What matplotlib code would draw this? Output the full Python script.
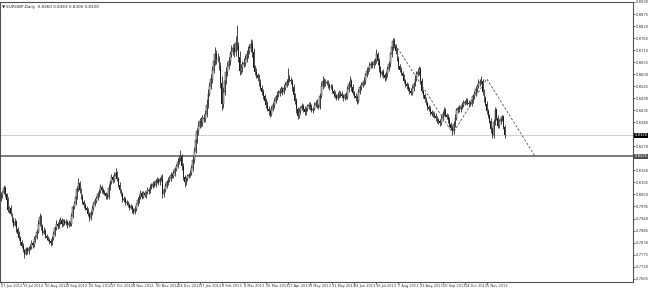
import numpy as np
import matplotlib
matplotlib.use("Agg")
import matplotlib.pyplot as plt
from matplotlib.transforms import blended_transform_factory

# EURGBP daily candles, prices in pips (price * 10000)
symbol = "EURGBP,Daily"
date_labels = ["27 Jun 2012", "19 Jul 2012", "10 Aug 2012", "3 Sep 2012", "25 Sep 2012",
               "17 Oct 2012", "8 Nov 2012", "30 Nov 2012", "24 Dec 2012", "17 Jan 2013",
               "8 Feb 2013", "4 Mar 2013", "26 Mar 2013", "17 Apr 2013", "9 May 2013",
               "31 May 2013", "24 Jun 2013", "16 Jul 2013", "7 Aug 2013", "29 Aug 2013",
               "20 Sep 2013", "14 Oct 2013", "5 Nov 2013"]
label_every = 16

first_open = 8030
closes = [
    8047, 8060, 8079, 8050, 8025, 7979, 7990, 7960, 7935, 7911,
    7925, 7890, 7870, 7850, 7834, 7815, 7795, 7780, 7800, 7790,
    7805, 7811, 7830, 7820, 7845, 7856, 7880, 7915, 7947, 7905,
    7875, 7885, 7860, 7850, 7843, 7835, 7829, 7850, 7870, 7895,
    7916, 7905, 7925, 7934, 7915, 7930, 7920, 7925, 7910, 7920,
    7916, 7950, 7993, 8010, 8040, 8075, 8102, 8070, 8040, 8016,
    8000, 7990, 7979, 7960, 7943, 7965, 7990, 8005, 8020, 8034,
    8050, 8065, 8084, 8070, 8060, 8056, 8045, 8038, 8080, 8105,
    8129, 8115, 8135, 8147, 8120, 8095, 8070, 8050, 8025, 8030,
    8015, 8010, 8002, 7990, 7995, 7980, 7970, 7985, 8005, 8025,
    8040, 8056, 8040, 8055, 8047, 8060, 8070, 8065, 8084, 8090,
    8100, 8095, 8110, 8115, 8105, 8120, 8125, 8050, 8070, 8090,
    8105, 8115, 8125, 8140, 8135, 8147, 8165, 8180, 8200, 8215,
    8225, 8180, 8130, 8106, 8120, 8135, 8140, 8147, 8170, 8206,
    8250, 8297, 8340, 8365, 8388, 8375, 8400, 8395, 8420, 8460,
    8511, 8545, 8579, 8620, 8660, 8690, 8670, 8670, 8638, 8560,
    8465, 8520, 8570, 8610, 8638, 8660, 8690, 8706, 8720, 8700,
    8743, 8729, 8680, 8615, 8630, 8645, 8652, 8670, 8690, 8706,
    8720, 8738, 8700, 8629, 8610, 8595, 8584, 8560, 8538, 8520,
    8500, 8479, 8460, 8443, 8430, 8420, 8440, 8460, 8479, 8495,
    8505, 8515, 8525, 8530, 8520, 8538, 8550, 8565, 8580, 8575,
    8570, 8540, 8505, 8479, 8440, 8411, 8430, 8445, 8456, 8440,
    8425, 8440, 8455, 8461, 8450, 8435, 8443, 8460, 8470, 8455,
    8452, 8500, 8545, 8570, 8555, 8565, 8561, 8550, 8540, 8543,
    8525, 8510, 8500, 8493, 8505, 8515, 8511, 8500, 8490, 8505,
    8497, 8530, 8555, 8570, 8540, 8515, 8502, 8490, 8479, 8520,
    8540, 8552, 8560, 8570, 8595, 8615, 8625, 8640, 8647, 8640,
    8655, 8661, 8693, 8660, 8625, 8602, 8610, 8595, 8584, 8600,
    8625, 8647, 8690, 8725, 8752, 8730, 8706, 8670, 8638, 8620,
    8606, 8590, 8570, 8555, 8545, 8534, 8525, 8515, 8535, 8556,
    8580, 8602, 8610, 8625, 8570, 8525, 8505, 8485, 8470, 8450,
    8440, 8425, 8420, 8415, 8411, 8400, 8390, 8385, 8379, 8400,
    8420, 8434, 8415, 8406, 8390, 8370, 8356, 8338, 8370, 8400,
    8434, 8445, 8440, 8450, 8461, 8470, 8475, 8479, 8470, 8465,
    8465, 8480, 8500, 8511, 8530, 8545, 8561, 8565, 8570, 8520,
    8490, 8465, 8430, 8410, 8388, 8350, 8320, 8380, 8434, 8400,
    8365, 8385, 8395, 8402, 8360, 8320,
]
# wick length above / below the body, pips
hi_ext = [
    12, 8, 15, 10, 6, 14, 9, 11, 7, 13, 18, 6, 9, 12, 8, 10, 14, 7, 11, 9,
    8, 13, 10, 7, 15, 9, 12, 20, 16, 8, 10, 14, 7, 9, 11, 6, 12, 10, 15, 13,
    18, 9, 11, 14, 8, 10, 7, 12, 9, 13, 10, 15, 11, 9, 14, 12, 25, 10, 8, 11,
    9, 12, 7, 10, 8, 13, 11, 9, 14, 10, 12, 8, 15, 9, 11, 10, 7, 13, 16, 12,
    14, 10, 18, 22, 9, 8, 11, 7, 10, 12, 9, 8, 11, 7, 13, 9, 10, 12, 8, 14,
    11, 15, 9, 10, 12, 8, 13, 9, 15, 11, 10, 12, 9, 14, 8, 11, 16, 20, 9, 12,
    10, 13, 9, 11, 8, 14, 12, 10, 15, 13, 30, 9, 12, 11, 8, 10, 9, 13, 14, 20,
    18, 22, 15, 19, 12, 16, 14, 20, 17, 25, 21, 18, 24, 16, 22, 35, 20, 28, 15, 18,
    30, 22, 18, 25, 16, 20, 14, 26, 19, 22, 30, 82, 20, 24, 18, 15, 21, 17, 19, 23,
    18, 25, 16, 20, 14, 18, 12, 15, 17, 11, 14, 10, 13, 16, 12, 9, 15, 11, 14, 12,
    16, 13, 10, 15, 12, 18, 14, 11, 50, 15, 12, 10, 14, 9, 13, 11, 15, 10, 12, 9,
    13, 11, 9, 14, 10, 12, 8, 13, 11, 15, 10, 14, 18, 20, 12, 15, 10, 13, 9, 12,
    11, 9, 13, 10, 15, 12, 10, 14, 9, 11, 13, 16, 12, 22, 10, 13, 9, 11, 14, 12,
    10, 13, 11, 15, 12, 16, 10, 14, 13, 11, 15, 12, 20, 10, 13, 11, 9, 12, 10, 14,
    12, 15, 13, 18, 15, 12, 10, 14, 11, 9, 13, 10, 12, 8, 11, 13, 9, 12, 14, 10,
    15, 12, 18, 14, 10, 13, 9, 11, 12, 8, 10, 13, 9, 11, 10, 12, 8, 9, 11, 14,
    12, 15, 10, 9, 11, 13, 10, 12, 14, 16, 13, 11, 12, 10, 14, 11, 9, 13, 12, 10,
    11, 13, 10, 12, 14, 11, 15, 12, 20, 10, 12, 9, 13, 11, 10, 12, 9, 15, 18, 11,
    12, 10, 14, 11, 13, 9,
]
lo_ext = [
    9, 14, 7, 11, 16, 8, 12, 10, 13, 9, 7, 12, 10, 8, 14, 11, 9, 22, 8, 12,
    10, 7, 11, 13, 8, 12, 9, 7, 10, 18, 12, 8, 11, 10, 7, 13, 15, 9, 8, 11,
    9, 12, 8, 10, 14, 9, 11, 8, 13, 10, 12, 9, 7, 11, 8, 10, 9, 14, 12, 10,
    13, 9, 11, 8, 16, 10, 7, 12, 9, 11, 8, 13, 10, 12, 9, 7, 14, 11, 8, 10,
    9, 13, 8, 11, 10, 12, 14, 9, 11, 8, 13, 10, 9, 12, 8, 14, 11, 9, 10, 8,
    12, 9, 11, 8, 10, 13, 9, 12, 8, 11, 10, 9, 12, 8, 11, 10, 9, 18, 12, 10,
    9, 11, 8, 12, 10, 9, 11, 8, 10, 12, 14, 16, 12, 20, 11, 9, 12, 10, 8, 11,
    12, 10, 14, 16, 11, 18, 13, 15, 12, 14, 16, 13, 15, 18, 14, 16, 22, 15, 20, 25,
    28, 20, 16, 14, 18, 15, 20, 13, 17, 22, 15, 18, 25, 20, 15, 18, 14, 16, 13, 15,
    14, 18, 20, 15, 16, 13, 17, 14, 12, 15, 13, 11, 14, 12, 15, 18, 12, 10, 13, 11,
    12, 10, 14, 11, 13, 10, 12, 9, 14, 11, 13, 15, 12, 14, 16, 18, 11, 13, 10, 12,
    11, 13, 10, 12, 14, 10, 11, 9, 12, 10, 13, 11, 9, 12, 14, 10, 12, 11, 13, 10,
    12, 14, 11, 13, 10, 12, 14, 11, 13, 10, 12, 9, 11, 14, 16, 12, 10, 13, 15, 11,
    10, 12, 9, 11, 13, 10, 12, 9, 11, 14, 10, 12, 11, 18, 15, 13, 11, 12, 14, 10,
    13, 11, 12, 10, 14, 12, 15, 11, 13, 10, 12, 14, 11, 13, 12, 10, 14, 11, 9, 12,
    10, 12, 11, 13, 15, 12, 14, 11, 13, 12, 10, 12, 11, 13, 10, 12, 14, 11, 15, 10,
    12, 10, 13, 11, 14, 12, 10, 16, 11, 12, 10, 13, 11, 12, 10, 11, 13, 12, 10, 14,
    11, 12, 10, 13, 11, 12, 10, 14, 12, 13, 15, 12, 14, 11, 13, 18, 14, 12, 13, 11,
    13, 11, 12, 10, 12, 14,
]

support_level = 8225
# hand drawn trend lines (bar index, pips)
trend_x = [284, 327.5, 352, 387]
trend_y = [8752, 8329, 8579, 8225]

tick_base = 8270
tick_step = 55

pip = 0.0001
c = np.array(closes) * pip
o = np.concatenate([[first_open * pip], c[:-1]])
h = np.maximum(o, c) + np.array(hi_ext) * pip
l = np.minimum(o, c) - np.array(lo_ext) * pip
idx = np.arange(len(c))

fig = plt.figure(figsize=(6.5, 2.88), dpi=100)
ax = fig.add_axes([0, 6.5 / 288, 633 / 650, 279.5 / 288])

ax.axhline(c[-1], color="#c8c8c8", lw=0.6, zorder=1)
ax.axhline(support_level * pip, color="#707070", lw=1.3, zorder=1)

ax.vlines(idx, l, h, color="#1a1a1a", lw=0.55, zorder=2)
up = c >= o
ax.bar(idx[up], (c - o)[up], bottom=o[up], width=0.65, facecolor="white",
       edgecolor="#1a1a1a", lw=0.35, zorder=3)
ax.bar(idx[~up], (o - c)[~up], bottom=c[~up], width=0.65, color="#1a1a1a", lw=0, zorder=3)

ax.plot(trend_x, np.array(trend_y) * pip, color="#555555", lw=0.6,
        ls=(0, (3, 2)), zorder=4)

ax.set_xlim(-0.72, 458)
ax.set_ylim(0.7652, 0.89245)

# price scale on the right
yt = [(tick_base + k * tick_step) * pip for k in range(-11, 13)]
yt = [v for v in yt if abs(v - c[-1]) > 0.0025 and abs(v - support_level * pip) > 0.0025]
ax.yaxis.tick_right()
ax.set_yticks(yt)
ax.set_yticklabels([f"{v:.4f}" for v in yt])
ax.tick_params(axis="y", labelsize=2.7, length=1.5, width=0.5, pad=0.8,
               colors="#333333")

xt = idx[::label_every][:len(date_labels)]
ax.set_xticks(xt)
ax.set_xticklabels(date_labels)
for lab in ax.get_xticklabels():
    lab.set_ha("left")
ax.tick_params(axis="x", labelsize=2.5, length=1.5, width=0.5, pad=0.3,
               colors="#333333")

for sp in ax.spines.values():
    sp.set_color("#505050")
    sp.set_linewidth(0.8)

tr = blended_transform_factory(ax.transAxes, ax.transData)
for val, fc in [(c[-1], "black"), (support_level * pip, "#505050")]:
    ax.text(1.003, val, f"{val:.4f}", transform=tr, fontsize=2.7, color="white",
            va="center", ha="left", clip_on=False,
            bbox=dict(fc=fc, ec="none", pad=0.3))

ax.text(0.003, 0.99,
        f"\u25bc {symbol}  {o[-1]:.4f} {h[-1]:.4f} {l[-1]:.4f} {c[-1]:.4f}",
        transform=ax.transAxes, fontsize=3.0, va="top", ha="left", color="#222222")

fig.savefig("out.png", dpi=100)
